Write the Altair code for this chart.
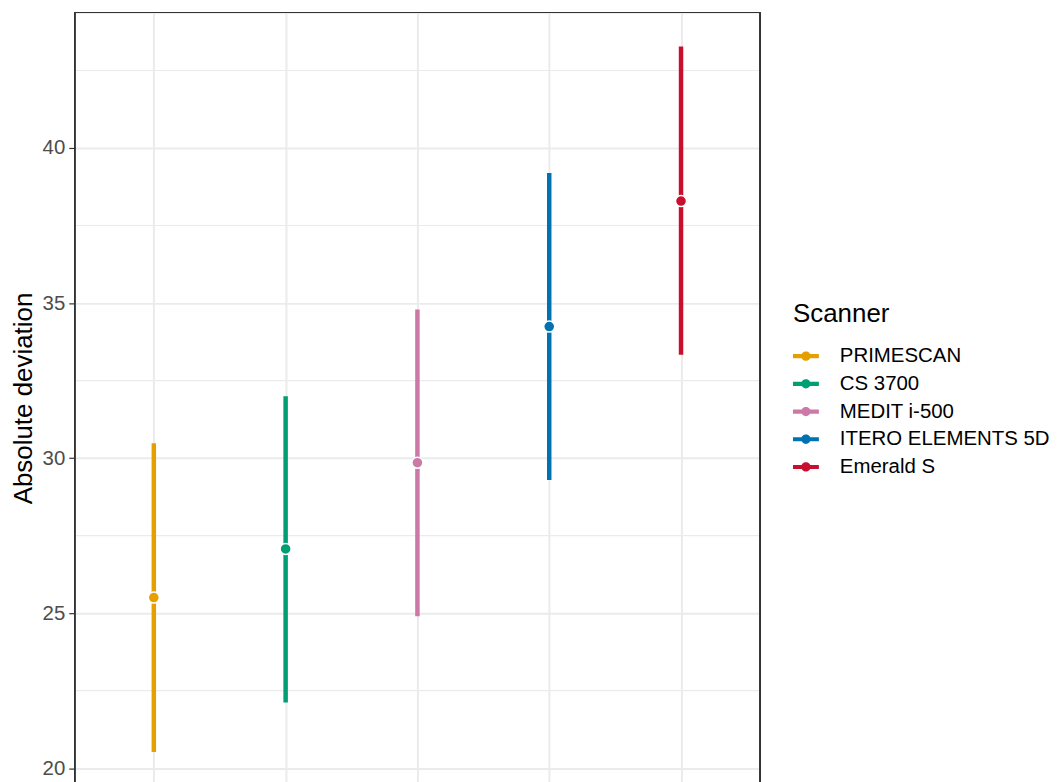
import altair as alt
import pandas as pd

scanners = ["PRIMESCAN", "CS 3700", "MEDIT i-500", "ITERO ELEMENTS 5D", "Emerald S"]
means = [25.50, 27.07, 29.85, 34.24, 38.29]
lowers = [20.52, 22.12, 24.90, 29.29, 33.33]
uppers = [30.48, 31.99, 34.79, 39.19, 43.27]
colors = ["#E69F00", "#009E73", "#CC79A7", "#0072B2", "#C8102E"]
y_ticks = [20, 25, 30, 35, 40]
y_minor = [22.5, 27.5, 32.5, 37.5, 42.5]
y_domain = [19.15, 44.37]

df = pd.DataFrame({"Scanner": scanners, "mean": means, "lower": lowers, "upper": uppers})
minor_df = pd.DataFrame({"v": y_minor})

W, H = 688, 785
GRID = "#EBEBEB"
BORDER = "#333333"

x_enc = alt.X(
    "Scanner:N",
    sort=scanners,
    scale=alt.Scale(type="point", padding=0.6),
    axis=alt.Axis(title=None, labels=False, ticks=False, domain=False,
                  grid=True, gridColor=GRID, gridWidth=2),
)
y_scale = alt.Scale(domain=y_domain, nice=False, zero=False)
y_axis = alt.Axis(
    values=y_ticks, grid=True, gridColor=GRID, gridWidth=2,
    domain=False, tickColor=BORDER, tickSize=6, tickWidth=1.2,
    labelPadding=4, labelFontSize=20.5, labelColor="#4D4D4D",
    title="Absolute deviation", titleFontSize=26, titleFontWeight="normal",
    titleColor="black", titlePadding=6, titleY=387,
)

legend_path = ("M-1,-0.16 L1,-0.16 L1,0.16 L-1,0.16 Z "
               "M0.36,0 A0.36,0.36 0 1,1 -0.36,0 A0.36,0.36 0 1,1 0.36,0 Z")

color_scale = alt.Scale(domain=scanners, range=colors)

minor = alt.Chart(minor_df).mark_rule(color=GRID, strokeWidth=1.2).encode(
    y=alt.Y("v:Q", scale=y_scale, axis=y_axis),
)

rules = alt.Chart(df).mark_rule(strokeWidth=4.5).encode(
    x=x_enc,
    y=alt.Y("lower:Q", scale=y_scale, axis=y_axis),
    y2="upper:Q",
    stroke=alt.Stroke("Scanner:N", sort=scanners, scale=color_scale, legend=None),
)

points = alt.Chart(df).mark_point(
    filled=True, size=123, stroke="white", strokeWidth=1.5, opacity=1
).encode(
    x=x_enc,
    y=alt.Y("mean:Q", scale=y_scale, axis=y_axis),
    color=alt.Color(
        "Scanner:N", sort=scanners, scale=color_scale,
        legend=alt.Legend(
            title="Scanner", orient="none", legendX=721, legendY=290,
            titleFontSize=26, titleFontWeight="normal", titleColor="black",
            titlePadding=16, labelFontSize=20.5, labelColor="black", labelLimit=400,
            symbolType=legend_path, symbolSize=676, symbolStrokeWidth=0,
            symbolOpacity=1, labelOffset=21, rowPadding=3.8, padding=0,
        ),
    ),
)

border_top = alt.Chart(df).mark_rule(color=BORDER, strokeWidth=1.2).encode(
    x=alt.value(0), x2=alt.value(W), y=alt.value(0)
)
border_left = alt.Chart(df).mark_rule(color=BORDER, strokeWidth=1.2).encode(
    x=alt.value(0), y=alt.value(0), y2=alt.value(H)
)
border_right = alt.Chart(df).mark_rule(color=BORDER, strokeWidth=1.2).encode(
    x=alt.value(W), y=alt.value(0), y2=alt.value(H)
)

chart = alt.layer(minor, rules, points, border_top, border_left, border_right).resolve_scale(
    color="independent", stroke="independent"
).properties(
    width=W, height=H,
    autosize=alt.AutoSizeParams(type="none"),
    padding={"left": 67, "top": 3, "right": 290, "bottom": 0},
    background="white",
).configure_view(stroke=None).configure(font="Liberation Sans")

chart.save("out.html", embed_options={"renderer": "svg", "actions": False})
